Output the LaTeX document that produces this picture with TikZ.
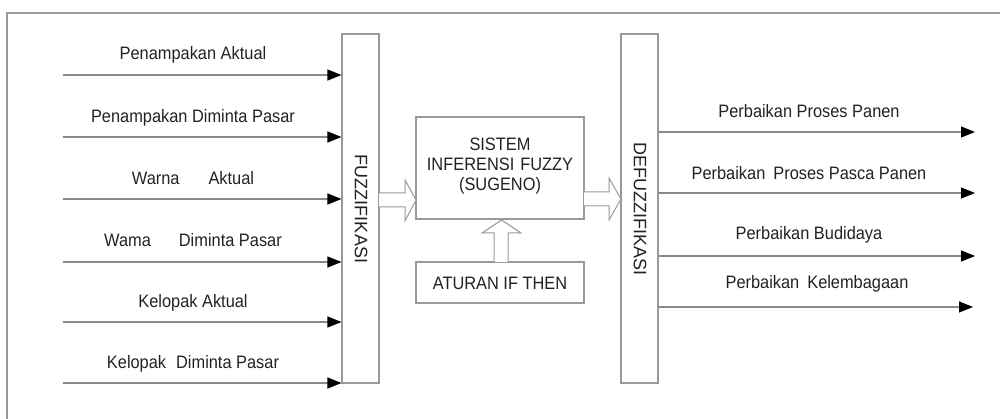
\documentclass[tikz,border=0pt]{standalone}
\usepackage{fontspec}
\setmainfont{Liberation Sans}[FakeStretch=0.91]
\newfontfamily\vertfont{Liberation Sans}
\usetikzlibrary{arrows.meta}
\definecolor{ln}{HTML}{8A8A8A}
\definecolor{bx}{HTML}{999999}
\definecolor{tx}{HTML}{222222}
\tikzset{
  boxst/.style={draw=bx, line width=1.1pt, fill=white, inner sep=0pt},
  inarrow/.style={draw=ln, line width=1.1pt, -{Triangle[length=14pt,width=11pt,fill=black,color=black]}},
  lbl/.style={text=tx, font=\fontsize{18}{20}\selectfont, inner sep=0pt, anchor=base},
  vlbl/.style={text=tx, font=\vertfont\fontsize{18}{20}\selectfont, inner sep=0pt, anchor=center, rotate=-90},
  hollow/.style={draw=bx, line width=1pt, fill=white},
}
\begin{document}
\begin{tikzpicture}[x=1pt,y=-1pt]
\useasboundingbox (0,0) rectangle (1000,419);
% frame (top and left only)
\coordinate (fTL) at (7,13);
\coordinate (fTR) at (1000,13);
\coordinate (fBL) at (7,419);
\draw[bx, line width=1.3pt] (fTR) -- (fTL) -- (fBL);

% main boxes
\node[boxst, minimum width=37pt, minimum height=349pt] (fuz) at (360.5,208.5) {};
\node[vlbl] at (361,209) {FUZZIFIKASI};
\node[boxst, minimum width=37pt, minimum height=349pt] (defuz) at (639.5,208.5) {};
\node[vlbl] at (640,209) {DEFUZZIFIKASI};
\node[boxst, minimum width=168pt, minimum height=102pt] (sis) at (500,168) {};
\node[lbl, anchor=center, align=center, text width=168pt, font=\fontsize{18}{20}\selectfont] at (500,166.5) {SISTEM\\INFERENSI FUZZY\\(SUGENO)};
\node[boxst, minimum width=168pt, minimum height=41pt] (atu) at (500,282.5) {};
\node[lbl, anchor=base] at (500,289.5) {ATURAN IF THEN};

% hollow block arrows
\draw[hollow] (379,193) -- (405,193) -- (405,180) -- (416,200) -- (405,221) -- (405,207) -- (379,207);
\draw[hollow] (584,192) -- (609,192) -- (609,178) -- (621,199) -- (609,220) -- (609,206) -- (584,206);
\draw[hollow] (494,262) -- (494,233) -- (482,233) -- (501.5,220) -- (521,233) -- (508,233) -- (508,262);

% inputs
\foreach \y/\b/\t/\n in {75/59.5/{Penampakan Aktual}/i1,137/122.5/{Penampakan Diminta Pasar}/i2,199/184.5/{Warna\hspace{29pt}Aktual}/i3,262/246.5/{Wama\hspace{28pt}Diminta Pasar}/i4,322/307.5/{Kelopak Aktual}/i5,383/368.5/{Kelopak\hspace{10pt}Diminta Pasar}/i6}{
  \coordinate (\n) at (63,\y);
  \draw[inarrow] (\n) -- (\n -| fuz.west);
  \node[lbl, anchor=base] at (193,\b) {\t};
}
% outputs
\foreach \y/\n/\e in {132/o1/975,193/o2/975,256/o3/975,307/o4/973}{
  \coordinate (\n) at (\e,\y);
  \draw[inarrow] (\n -| defuz.east) -- (\n);
}
\node[lbl] at (809,118) {Perbaikan Proses Panen};
\node[lbl] at (809,179.5) {Perbaikan\hspace{8pt}Proses Pasca Panen};
\node[lbl] at (809,239.5) {Perbaikan Budidaya};
\node[lbl] at (817,288.5) {Perbaikan\hspace{8pt}Kelembagaan};
\end{tikzpicture}
\end{document}
